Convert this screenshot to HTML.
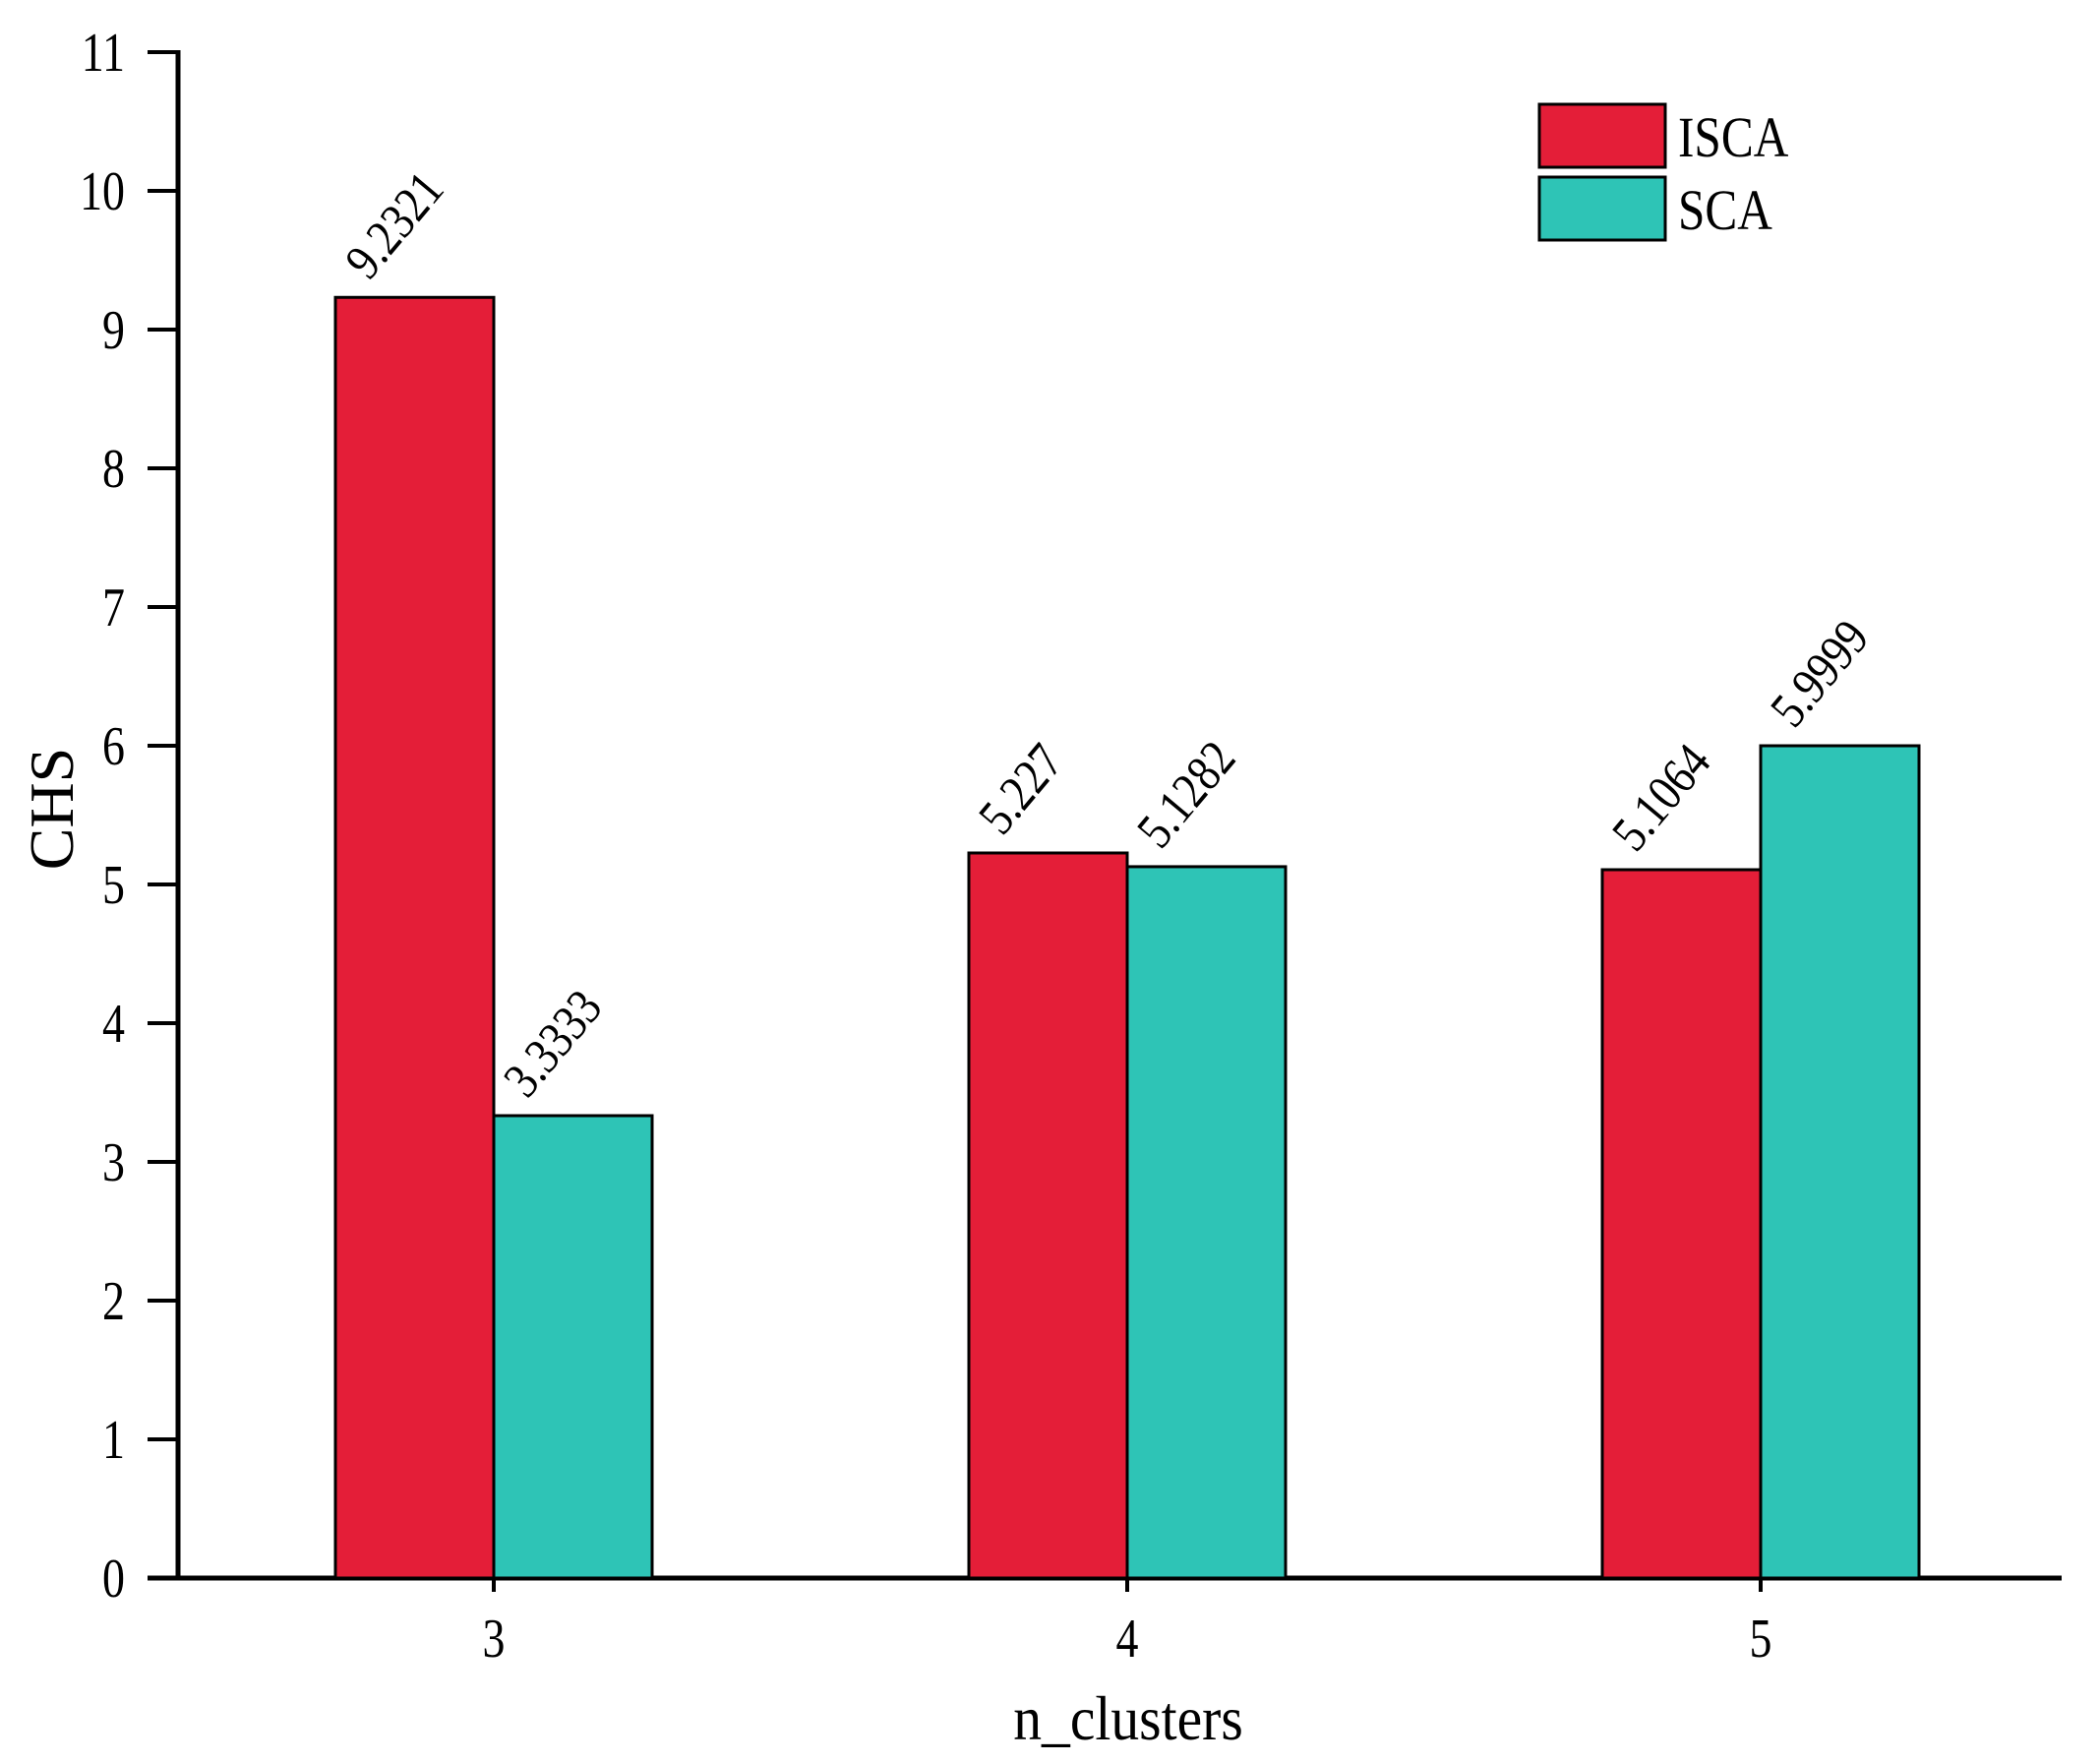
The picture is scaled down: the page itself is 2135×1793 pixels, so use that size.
<!DOCTYPE html>
<html><head><meta charset="utf-8"><style>
html,body{margin:0;padding:0;background:#fff;}
svg{display:block;font-family:"Liberation Serif",serif;}
</style></head><body>
<svg id="chart" width="2135" height="1793" viewBox="0 0 2135 1793">
<g id="axes"></g><g id="bars"></g><g id="labels"></g>
<g>
<rect x="1565" y="106" width="128" height="64" fill="#e41e38" stroke="#000" stroke-width="3"/>
<text x="0" y="0" font-size="58" transform="translate(1706,159) scale(0.85,1)">ISCA</text>
<rect x="1565" y="180" width="128" height="64" fill="#2ec4b6" stroke="#000" stroke-width="3"/>
<text x="0" y="0" font-size="58" transform="translate(1706,233) scale(0.85,1)">SCA</text>
</g>
<text x="0" y="0" font-size="64" transform="translate(74,822) rotate(-90)" text-anchor="middle">CHS</text>
<text x="0" y="0" font-size="64" transform="translate(1147,1768) scale(0.9,1)" text-anchor="middle">n_clusters</text>
</svg>
<script>
const categories = ["3","4","5"];
const iscaValues = [9.2321, 5.227, 5.1064];
const scaValues = [3.3333, 5.1282, 5.9999];
const iscaLabels = ["9.2321","5.227","5.1064"];
const scaLabels = ["3.3333","5.1282","5.9999"];
const yTicks = [0,1,2,3,4,5,6,7,8,9,10,11];

const NS = "http://www.w3.org/2000/svg";
const x0 = 181, y0 = 1604, yTop = 53, yMax = 11;
const xEnd = 2096;
const groupCenters0 = 502, groupStep = 644, barW = 161;
function yScale(v){ return y0 - (v / yMax) * (y0 - yTop); }
function xCenter(i){ return groupCenters0 + i * groupStep; }
function mk(tag, attrs, parent){ const e = document.createElementNS(NS, tag); for (const k in attrs) e.setAttribute(k, attrs[k]); parent.appendChild(e); return e; }

const axes = document.getElementById('axes');
const bars = document.getElementById('bars');
const labels = document.getElementById('labels');

yTicks.forEach(t => {
  const y = yScale(t);
  const tk = mk('line', {x1:150, x2:x0, y1:y, y2:y, stroke:'#000', 'stroke-width':4}, axes);
  
  
  const tx = mk('text', {x:0, y:0, 'font-size':56, 'text-anchor':'end', transform:'translate(127,' + (y+19) + ') scale(0.82,1)'}, axes);
  tx.textContent = String(t);
  
  
});

categories.forEach((c, i) => {
  const cx = xCenter(i);
  const tk = mk('line', {x1:cx, x2:cx, y1:y0, y2:y0+14, stroke:'#000', 'stroke-width':4}, axes);
  
  
  const tx = mk('text', {x:0, y:0, 'font-size':56, 'text-anchor':'middle', transform:'translate(' + cx + ',1684) scale(0.82,1)'}, axes);
  tx.textContent = c;
  
  

  [[iscaValues, iscaLabels, '#e41e38', 'isca', -barW], [scaValues, scaLabels, '#2ec4b6', 'sca', 0]].forEach(([vals, labs, col, nm, off]) => {
    const v = vals[i];
    const bx = cx + off, by = yScale(v);
    const r = mk('rect', {x:bx, y:by, width:barW, height:y0-by, fill:col, stroke:'#000', 'stroke-width':3}, bars);
    
    
    const lx = bx + 34, ly = by - 16;
    const t = mk('text', {x:0, y:0, 'font-size':52, transform:'translate(' + lx + ',' + ly + ') rotate(-50) scale(0.85,1)'}, labels);
    t.textContent = labs[i];
    
    
  });
});

const ya = mk('line', {x1:x0, x2:x0, y1:yTop-2, y2:y0+2, stroke:'#000', 'stroke-width':5}, axes);


const xa = mk('line', {x1:150, x2:xEnd, y1:y0, y2:y0, stroke:'#000', 'stroke-width':5}, axes);


</script>
</body></html>
